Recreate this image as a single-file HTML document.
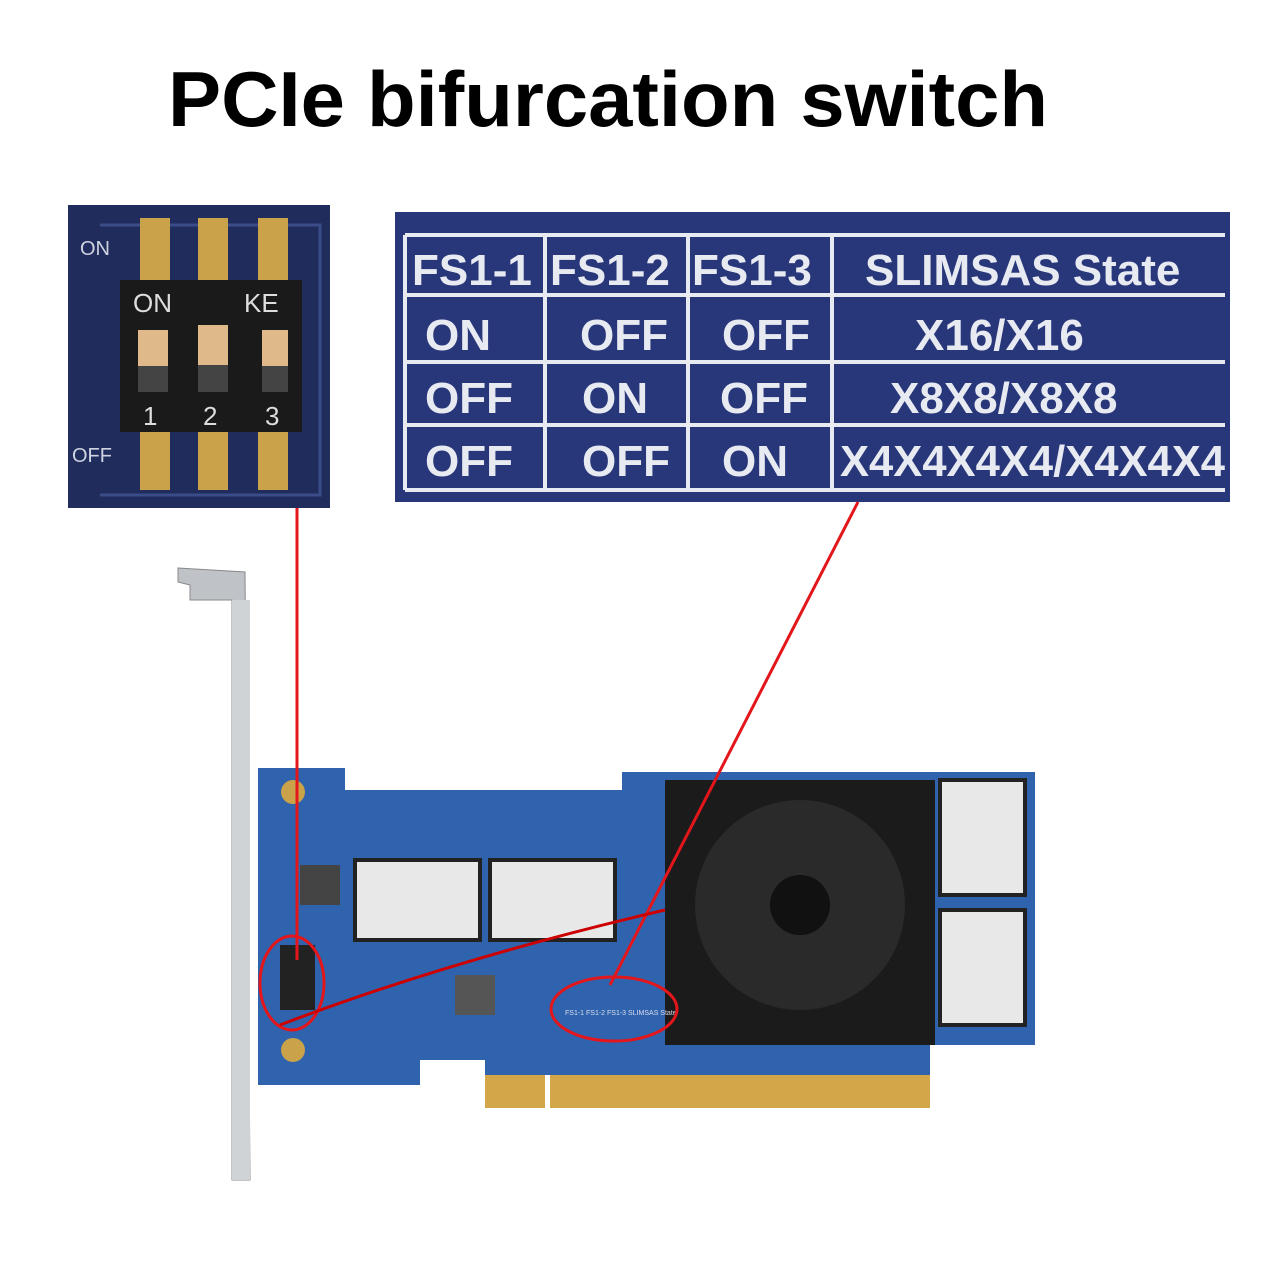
<!DOCTYPE html>
<html><head><meta charset="utf-8"><style>
html,body{margin:0;padding:0;background:#fff;}
svg{display:block}
text{font-family:"Liberation Sans",sans-serif}
</style></head><body>
<svg width="1280" height="1280" viewBox="0 0 1280 1280" xmlns="http://www.w3.org/2000/svg">
<rect width="1280" height="1280" fill="#fff"/>
<text x="168" y="126" font-size="78" font-weight="bold" fill="#000" textLength="880" lengthAdjust="spacingAndGlyphs">PCIe bifurcation switch</text>

<!-- left inset -->
<rect x="68" y="205" width="262" height="303" fill="#1f2c5c"/>
<path d="M100 225 L320 225 L320 495 L100 495" stroke="#3a4d88" stroke-width="3" fill="none"/>
<text x="80" y="255" font-size="20" fill="#cfd3e0">ON</text>
<text x="72" y="462" font-size="20" fill="#cfd3e0">OFF</text>
<g fill="#c9a24a">
<rect x="140" y="218" width="30" height="62"/><rect x="198" y="218" width="30" height="62"/><rect x="258" y="218" width="30" height="62"/>
<rect x="140" y="430" width="30" height="60"/><rect x="198" y="430" width="30" height="60"/><rect x="258" y="430" width="30" height="60"/>
</g>
<rect x="120" y="280" width="182" height="152" fill="#1a1a1a"/>
<text x="133" y="312" font-size="26" fill="#ddd">ON</text>
<text x="244" y="312" font-size="26" fill="#ddd">KE</text>
<g fill="#e0b98a"><rect x="138" y="330" width="30" height="36"/><rect x="198" y="325" width="30" height="40"/><rect x="262" y="330" width="26" height="36"/></g>
<g fill="#444"><rect x="138" y="366" width="30" height="26"/><rect x="198" y="365" width="30" height="27"/><rect x="262" y="366" width="26" height="26"/></g>
<text x="143" y="425" font-size="26" fill="#ddd">1</text><text x="203" y="425" font-size="26" fill="#ddd">2</text><text x="265" y="425" font-size="26" fill="#ddd">3</text>

<!-- right inset -->
<rect x="395" y="212" width="835" height="290" fill="#28367a"/>
<g stroke="#e8eaf2" stroke-width="4" fill="none">
<path d="M405 235 H1225 M405 295 H1225 M405 362 H1225 M405 425 H1225 M405 490 H1225"/>
<path d="M405 235 V490 M545 235 V490 M688 235 V490 M832 235 V490"/>
</g>
<g font-family="Liberation Mono,monospace" font-size="44" fill="#e8eaf2" font-weight="bold">
<text x="412" y="285">FS1-1</text><text x="550" y="285">FS1-2</text><text x="692" y="285">FS1-3</text><text x="865" y="285">SLIMSAS State</text>
<text x="425" y="350">ON</text><text x="580" y="350">OFF</text><text x="722" y="350">OFF</text><text x="915" y="350">X16/X16</text>
<text x="425" y="413">OFF</text><text x="582" y="413">ON</text><text x="720" y="413">OFF</text><text x="890" y="413">X8X8/X8X8</text>
<text x="425" y="476">OFF</text><text x="582" y="476">OFF</text><text x="722" y="476">ON</text><text x="840" y="476" textLength="385" lengthAdjust="spacingAndGlyphs">X4X4X4X4/X4X4X4</text>
</g>

<!-- bracket -->
<path d="M178 568 L245 572 L250 1180 L232 1180 L232 600 L190 600 L190 585 L178 582 Z" fill="#bfc3c8" stroke="#888" stroke-width="1"/>
<rect x="232" y="600" width="18" height="580" fill="#cfd3d6"/>

<!-- PCB -->
<path d="M258 768 L345 768 L345 790 L622 790 L622 772 L1035 772 L1035 1045 L930 1045 L930 1075 L485 1075 L485 1060 L420 1060 L420 1085 L258 1085 Z" fill="#2f63ad"/>
<rect x="485" y="1075" width="445" height="33" fill="#d4a64a"/>
<rect x="545" y="1075" width="5" height="33" fill="#fff"/>
<!-- slimsas connectors -->
<rect x="355" y="860" width="125" height="80" fill="#e8e8e8" stroke="#222" stroke-width="4"/>
<rect x="490" y="860" width="125" height="80" fill="#e8e8e8" stroke="#222" stroke-width="4"/>
<rect x="940" y="780" width="85" height="115" fill="#e8e8e8" stroke="#222" stroke-width="4"/>
<rect x="940" y="910" width="85" height="115" fill="#e8e8e8" stroke="#222" stroke-width="4"/>
<!-- heatsink -->
<rect x="665" y="780" width="270" height="265" fill="#1b1b1b"/>
<circle cx="800" cy="905" r="105" fill="#2a2a2a"/>
<circle cx="800" cy="905" r="30" fill="#111"/>
<!-- components -->
<rect x="455" y="975" width="40" height="40" fill="#555"/>
<rect x="300" y="865" width="40" height="40" fill="#444"/>
<rect x="280" y="945" width="35" height="65" fill="#222"/>
<circle cx="293" cy="792" r="12" fill="#c9a24a"/><circle cx="293" cy="1050" r="12" fill="#c9a24a"/>
<text x="565" y="1015" font-size="7" fill="#dde">FS1-1 FS1-2 FS1-3 SLIMSAS State</text>

<!-- red callouts -->
<g stroke="#e3161b" stroke-width="3" fill="none">
<line x1="297" y1="508" x2="297" y2="960"/>
<line x1="858" y1="502" x2="610" y2="985"/>
<ellipse cx="292" cy="983" rx="32" ry="47"/>
<ellipse cx="614" cy="1009" rx="63" ry="32"/>
<path d="M280 1025 Q450 960 665 910" stroke="#c00" stroke-width="3"/>
</g>
</svg>
</body></html>
